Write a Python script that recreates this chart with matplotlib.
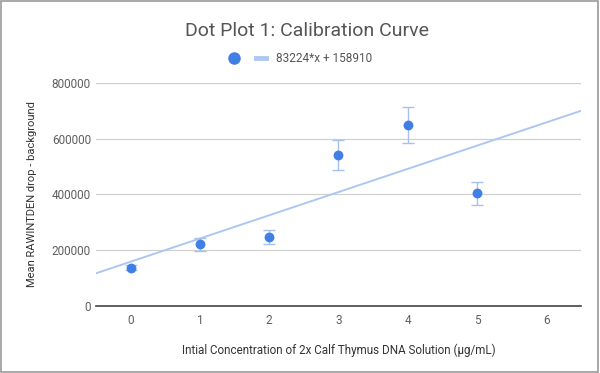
import matplotlib
matplotlib.use("Agg")
import matplotlib.pyplot as plt
from matplotlib.lines import Line2D
from matplotlib.patches import Rectangle

plt.rcParams['font.family'] = ['Roboto', 'DejaVu Sans']

concentration = [0, 1, 2, 3, 4, 5]
mean_rawintden = [138000, 221000, 247000, 542000, 649000, 404000]
error = [10000, 23000, 25000, 54000, 65000, 42000]
slope = 83224
intercept = 158910
trend_label = "83224*x + 158910"
x_ticks = [0, 1, 2, 3, 4, 5, 6]
y_ticks = [0, 200000, 400000, 600000, 800000]

dot_color = "#3f7fe6"
trend_color = "#aec7f2"
err_color = "#a6c1ee"
text_color = "#5f5f5f"

fig = plt.figure(figsize=(6.0, 3.73), dpi=100)
ax = fig.add_axes([0.16, 0.1796, 0.808, 0.598])

xlim = (-0.5, 6.5)
ax.plot(xlim, [slope * xlim[0] + intercept, slope * xlim[1] + intercept],
        color=trend_color, lw=1.4, zorder=2)
ax.errorbar(concentration, mean_rawintden, yerr=error, fmt='none',
            ecolor=err_color, elinewidth=1.0, capsize=4.5, capthick=1.0, zorder=3)
ax.scatter(concentration, mean_rawintden, s=50, color=dot_color, zorder=4, linewidths=0)

ax.set_xlim(*xlim)
ax.set_ylim(0, 800000)
ax.set_xticks(x_ticks)
ax.set_yticks(y_ticks)
ax.set_yticklabels([str(v) for v in y_ticks])
ax.grid(axis='y', color='#d0d0d0', lw=0.9)
ax.set_axisbelow(True)
for s in ['top', 'right', 'left']:
    ax.spines[s].set_visible(False)
ax.spines['bottom'].set_color('#444444')
ax.spines['bottom'].set_linewidth(1.2)
ax.spines['bottom'].set_zorder(5)
ax.tick_params(length=0, labelsize=8.5, colors=text_color)
ax.tick_params(axis='x', pad=5.5)
ax.tick_params(axis='y', pad=3.6)

ax.set_xlabel("Intial Concentration of 2x Calf Thymus DNA Solution (µg/mL)",
              fontsize=8.4, color='#333333', labelpad=12)
ax.set_ylabel("Mean RAWINTDEN drop - background", fontsize=8.0, color='#333333', labelpad=11)

fig.text(0.511, 0.918, "Dot Plot 1: Calibration Curve", ha='center', va='center',
         fontsize=14, color='#555555')

dot_h = Line2D([], [], marker='o', color=dot_color, ls='none', markersize=8)
line_h = Line2D([], [], color=trend_color, lw=3.5)
fig.legend(handles=[dot_h, line_h], labels=['', trend_label], ncol=2,
           loc='center', bbox_to_anchor=(0.501, 0.842), frameon=False,
           fontsize=8.5, handlelength=0.85, columnspacing=0.6, handletextpad=0.85,
           labelcolor='#555555', borderpad=0, borderaxespad=0)

fig.patches.append(Rectangle((0.002, 0.003), 0.994, 0.994, transform=fig.transFigure,
                             fill=False, edgecolor='#9a9a9a', lw=1.2))

fig.savefig("out.png", dpi=100)
